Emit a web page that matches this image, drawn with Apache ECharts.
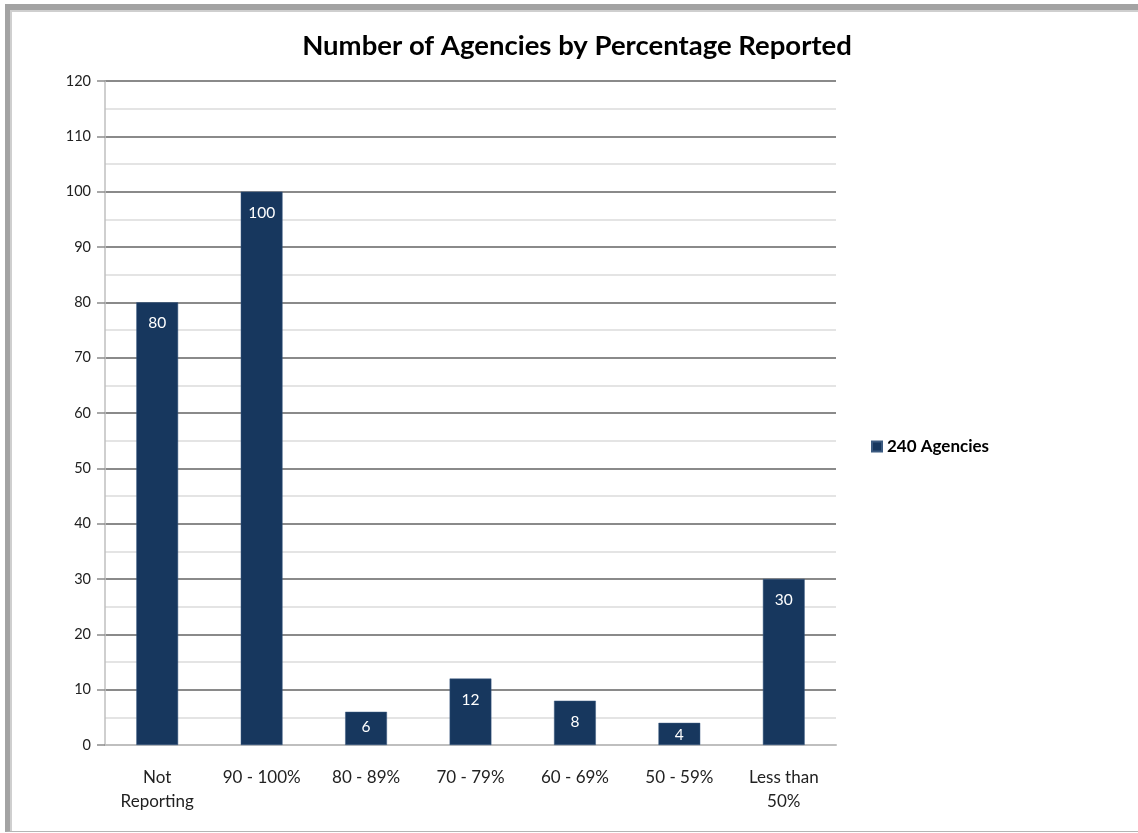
<!DOCTYPE html>
<html>
<head>
<meta charset="utf-8">
<script src="https://cdn.jsdelivr.net/npm/echarts@6/dist/echarts.min.js"></script>
<style>
  html, body { margin: 0; padding: 0; background: #ffffff; }
  #frame {
    position: absolute; left: 5px; top: 4px; width: 1133px; height: 828px;
    box-sizing: border-box;
    border-left: 5px solid #a3a3a3; border-top: 6px solid #a3a3a3;
    border-bottom: 1px solid #b5b5b5;
  }
  #inner {
    position: absolute; left: 0; top: 0; right: 0; bottom: 0;
    border-left: 2px solid #cfcfcf; border-top: 2px solid #cfcfcf;
  }
  #chart { position: absolute; left: 0; top: 0; width: 1138px; height: 833px; }
</style>
</head>
<body>
<div id="frame"><div id="inner"></div></div>
<div id="chart"></div>
<script>
// Reporting bands and agency counts
const categories = ['Not\nReporting', '90 - 100%', '80 - 89%', '70 - 79%', '60 - 69%', '50 - 59%', 'Less than\n50%'];
const agencyCounts = [80, 100, 6, 12, 8, 4, 30];
const seriesName = '240 Agencies';
const chartTitle = 'Number of Agencies by Percentage Reported';
const yMin = 0, yMax = 120, yStep = 10;

const font = 'Lato, "Open Sans", sans-serif';
const chart = echarts.init(document.getElementById('chart'), null, { renderer: 'canvas' });

// Short bars keep their value label closer to the top edge so it stays inside
const barData = agencyCounts.map(v => ({
  value: v,
  label: { distance: v <= 4 ? 4 : (v <= 6 ? 7 : 13) }
}));

chart.setOption({
  backgroundColor: 'transparent',
  animation: false,
  textStyle: { fontFamily: font },
  title: {
    text: chartTitle,
    left: 572, top: 27, textAlign: 'center',
    textStyle: { fontFamily: font, fontSize: 27.5, fontWeight: 'bold', color: '#000000' }
  },
  legend: {
    orient: 'vertical', left: 866, top: 433,
    itemWidth: 10, itemHeight: 10, itemGap: 6,
    icon: 'rect',
    textStyle: { fontFamily: font, fontSize: 17, fontWeight: 'bold', color: '#000000', padding: [0, 0, 0, 0] },
    data: [seriesName]
  },
  grid: { left: 105, right: 302, top: 81, bottom: 88, containLabel: false },
  xAxis: {
    type: 'category',
    data: categories,
    axisLine: { show: true, lineStyle: { color: '#bfbfbf', width: 2 } },
    axisTick: { show: false },
    axisLabel: { fontFamily: font, fontSize: 17, color: '#222222', margin: 21, lineHeight: 24, interval: 0 },
    splitLine: { show: false }
  },
  yAxis: {
    type: 'value',
    min: yMin, max: yMax, interval: yStep,
    axisLine: { show: true, lineStyle: { color: '#bfbfbf', width: 1.5 } },
    axisTick: { show: true, length: 8, lineStyle: { color: '#8c8c8c', width: 1.5 } },
    axisLabel: { fontFamily: font, fontSize: 14.5, color: '#222222', margin: 14 },
    splitLine: { show: true, lineStyle: { color: '#8a8a8a', width: 2 } },
    minorTick: { show: false, splitNumber: 2 },
    minorSplitLine: { show: true, lineStyle: { color: '#dcdcdc', width: 1.5 } }
  },
  series: [{
    name: seriesName,
    type: 'bar',
    data: barData,
    barWidth: '40%',
    clip: false,
    itemStyle: { color: '#17375e', borderColor: '#3b5a80', borderWidth: 0.5 },
    label: {
      show: true, position: 'insideTop', distance: 13,
      fontFamily: font, fontSize: 15.5, color: '#ffffff'
    }
  }]
});
</script>
</body>
</html>
